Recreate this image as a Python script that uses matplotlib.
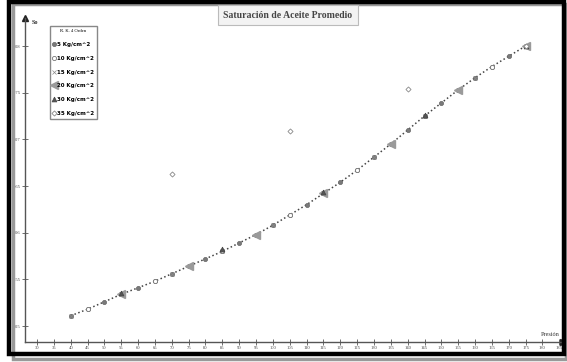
import matplotlib
matplotlib.use("Agg")
import matplotlib.pyplot as plt
from matplotlib.patches import Rectangle

# pressure (x) and average oil saturation (So) for each R.K. step size
p_5 = [40, 45, 50, 55, 60, 65, 70, 75, 80, 85, 90, 95, 100, 105,
       110, 115, 120, 125, 130, 135, 140, 145, 150, 155, 160, 165, 170, 175]
so_5 = [0.511, 0.518, 0.526, 0.534, 0.541, 0.548, 0.556, 0.564, 0.572, 0.580,
        0.589, 0.598, 0.608, 0.619, 0.630, 0.642, 0.654, 0.667, 0.681, 0.695,
        0.710, 0.725, 0.739, 0.753, 0.766, 0.778, 0.789, 0.800]

p_10 = [45, 55, 65, 75, 85, 95, 105, 115, 125, 135, 145, 155, 165, 175]
so_10 = [0.518, 0.534, 0.548, 0.564, 0.580, 0.598, 0.619, 0.642, 0.667, 0.695,
         0.725, 0.753, 0.778, 0.800]

p_15 = [40, 55, 70, 85, 100, 115, 130, 145, 160, 175]
so_15 = [0.511, 0.534, 0.556, 0.580, 0.608, 0.642, 0.681, 0.725, 0.766, 0.800]

p_20 = [55, 75, 95, 115, 135, 155, 175]
so_20 = [0.534, 0.564, 0.598, 0.642, 0.695, 0.753, 0.800]

p_30 = [55, 85, 115, 145, 175]
so_30 = [0.535, 0.582, 0.644, 0.726, 0.800]

p_35 = [70, 105, 140, 175]
so_35 = [0.6625, 0.709, 0.754, 0.800]

labels = ["5 Kg/cm^2", "10 Kg/cm^2", "15 Kg/cm^2", "20 Kg/cm^2", "30 Kg/cm^2", "35 Kg/cm^2"]
xticks = list(range(30, 190, 5))
yticks = [0.5, 0.55, 0.6, 0.65, 0.7, 0.75, 0.8]

fig = plt.figure(figsize=(5.67, 3.62), dpi=100)
ax = fig.add_axes([25 / 567, 20 / 362, 538 / 567, 324 / 362])

ax.plot(p_5, so_5, ':', color='#444444', lw=1.1, marker='o', ms=3,
        mfc='#7a7a7a', mec='#666666', mew=0.5, label=labels[0], zorder=3)
ax.plot(p_10, so_10, 'none', marker='o', ms=3, mfc='white', mec='#777777',
        mew=0.6, label=labels[1], zorder=4)
ax.plot(p_15, so_15, 'none', marker='x', ms=2.2, mec='#888888', mew=0.5,
        label=labels[2], zorder=4)
ax.plot(p_20, so_20, 'none', marker='<', ms=5.5, mfc='#9a9a9a', mec='#9a9a9a',
        label=labels[3], zorder=5)
ax.plot(p_30, so_30, 'none', marker='^', ms=3.5, mfc='#555555', mec='#444444',
        mew=0.5, label=labels[4], zorder=6)
ax.plot(p_35, so_35, 'none', marker='D', ms=2.6, mfc='white', mec='#888888',
        mew=0.6, label=labels[5], zorder=6)

ax.set_xlim(26.44, 186.1)
ax.set_ylim(0.4829, 0.830)
ax.set_xticks(xticks)
ax.set_xticklabels([str(v) for v in xticks], fontsize=3.3, family='Liberation Serif', color='#444444')
ax.set_yticks(yticks)
ax.set_yticklabels([str(v) for v in yticks], fontsize=3.3, family='Liberation Serif', color='#444444')
ax.tick_params(direction='inout', length=4, width=0.6, color='#555555', pad=1)

for s in ['top', 'right']:
    ax.spines[s].set_visible(False)
for s in ['left', 'bottom']:
    ax.spines[s].set_color('#555555')
    ax.spines[s].set_linewidth(1.0)

# axis arrows
ax.plot([0], [1], marker='^', ms=4, color='#222222', transform=ax.transAxes, clip_on=False)
ax.plot([1], [0], marker='>', ms=4, color='#222222', transform=ax.transAxes, clip_on=False)
ax.text(0.012, 0.985, 'So', transform=ax.transAxes, fontsize=4.5, family='Liberation Serif',
        fontweight='bold', color='#333333', ha='left', va='center')
fig.text(541 / 567, 1 - 335 / 362, 'Presión', fontsize=4.5, family='Liberation Serif',
         color='#333333', ha='left', va='center')

leg = ax.legend(loc='upper left', bbox_to_anchor=(0.046, 0.975), borderaxespad=0,
                title='R. K. 4 Orden', title_fontsize=3.3, handlelength=0.6,
                labelspacing=1.6, handletextpad=0.2, borderpad=0.5,
                fancybox=False, edgecolor='#888888', framealpha=1,
                prop={'size': 4, 'weight': 'bold', 'family': 'DejaVu Sans'})
leg.get_title().set_family('Liberation Serif')

# title box
fig.text(288 / 567, 1 - 15 / 362, 'Saturación de Aceite Promedio', fontsize=7,
         family='Liberation Serif', fontweight='bold', color='#444444',
         ha='center', va='center',
         bbox=dict(boxstyle='square,pad=0.6', fc='#f3f3f3', ec='#bbbbbb', lw=0.8))

# black frame around the picture with a soft shadow
fig.patches.append(Rectangle((13 / 567, 1 - 359 / 362), 553 / 567, 355 / 362,
                             transform=fig.transFigure, fill=False, ec='#999999', lw=2.5, zorder=0))
fig.patches.append(Rectangle((9 / 567, 1 - 354 / 362), 555 / 567, 352 / 362,
                             transform=fig.transFigure, fill=False, ec='black', lw=3.2, zorder=10))

fig.savefig('out.png', dpi=100)
